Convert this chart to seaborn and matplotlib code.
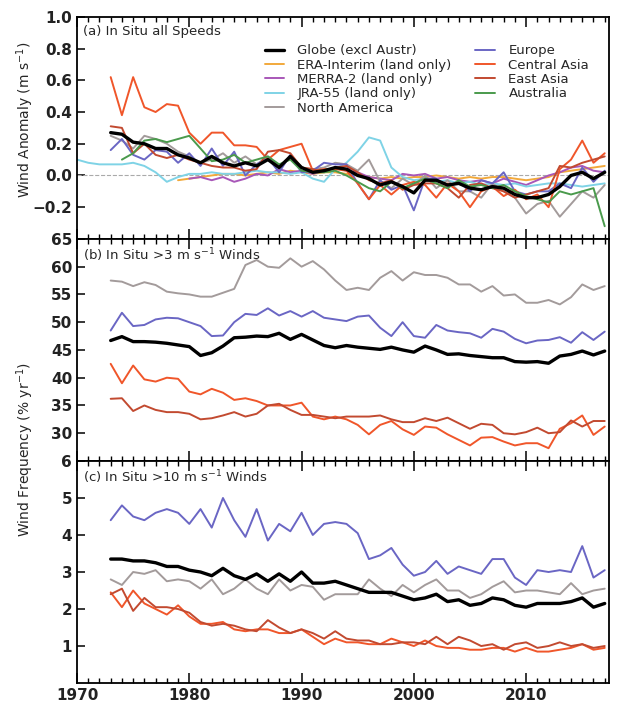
"""
Surface wind stability figure: in situ anomalies and frequency of
moderate (>3 m/s) and strong (>10 m/s) winds, 1973-2017.
"""

import numpy as np
import pandas as pd
import matplotlib
matplotlib.use("Agg")
import matplotlib.pyplot as plt
import seaborn as sns
from matplotlib.ticker import MultipleLocator

sns.set_style("white")
plt.rcParams['font.family'] = ['DejaVu Sans']

YEARS = list(range(1973, 2018))

# --- (a) anomalies, m/s ---
globe_a = [0.27, 0.26, 0.21, 0.20, 0.17, 0.17, 0.13, 0.11, 0.08, 0.12, 0.08, 0.06, 0.08, 0.06, 0.10,
           0.05, 0.12, 0.05, 0.02, 0.03, 0.05, 0.04, 0.00, -0.02, -0.06, -0.04, -0.07, -0.11, -0.03, -0.03,
           -0.06, -0.05, -0.08, -0.09, -0.07, -0.08, -0.12, -0.14, -0.14, -0.12, -0.07, 0.00, 0.02, -0.02, 0.02]
casia_a = [0.62, 0.38, 0.62, 0.43, 0.40, 0.45, 0.44, 0.27, 0.20, 0.27, 0.27, 0.19, 0.19, 0.18, 0.10,
           0.16, 0.18, 0.20, 0.03, 0.04, 0.04, 0.03, -0.05, -0.15, -0.06, -0.12, -0.06, -0.04, -0.06, -0.14,
           -0.05, -0.10, -0.20, -0.10, -0.07, -0.13, -0.09, -0.15, -0.12, -0.20, 0.04, 0.10, 0.22, 0.08, 0.14]
easia_a = [0.31, 0.30, 0.14, 0.20, 0.13, 0.11, 0.13, 0.10, 0.08, 0.06, 0.05, 0.05, 0.03, 0.04, 0.15,
           0.16, 0.14, 0.05, 0.04, 0.02, 0.05, 0.06, 0.02, -0.03, -0.05, -0.03, -0.09, -0.06, -0.05, -0.05,
           -0.08, -0.14, -0.06, -0.05, -0.08, -0.10, -0.14, -0.12, -0.10, -0.08, 0.06, 0.05, 0.08, 0.10, 0.12]
europe_a = [0.16, 0.23, 0.13, 0.10, 0.16, 0.15, 0.08, 0.14, 0.06, 0.17, 0.06, 0.15, 0.00, 0.07, 0.11,
            0.02, 0.13, 0.02, 0.03, 0.08, 0.07, 0.07, -0.05, -0.15, -0.03, -0.09, -0.06, -0.22, -0.02, -0.02,
            -0.07, -0.04, -0.10, -0.03, -0.05, 0.02, -0.10, -0.12, -0.10, -0.10, -0.05, -0.08, 0.05, -0.04, 0.03]
namer_a = [0.25, 0.22, 0.17, 0.25, 0.23, 0.20, 0.15, 0.12, 0.08, 0.10, 0.14, 0.08, 0.12, 0.07, 0.12,
           0.06, 0.12, 0.05, 0.04, 0.05, 0.08, 0.07, 0.03, 0.10, -0.04, -0.08, -0.02, -0.06, 0.00, -0.08,
           -0.03, -0.10, -0.10, -0.14, -0.05, -0.10, -0.14, -0.24, -0.18, -0.16, -0.26, -0.18, -0.10, -0.14, -0.06]
AUS_YEARS = list(range(1974, 2018))
austr_a = [0.10, 0.14, 0.22, 0.23, 0.21, 0.23, 0.25, 0.17, 0.09, 0.10, 0.13, 0.08, 0.10, 0.12,
           0.07, 0.10, 0.03, 0.02, 0.02, 0.03, 0.00, -0.04, -0.08, -0.10, -0.04, -0.08, -0.05, -0.02,
           -0.05, -0.08, -0.03, -0.07, -0.06, -0.08, -0.06, -0.10, -0.13, -0.15, -0.17, -0.10, -0.12,
           -0.10, -0.08, -0.32]
ERA_YEARS = list(range(1979, 2018))
era_a = [-0.03, -0.02, -0.01, 0.00, 0.01, 0.01, 0.00, 0.01, 0.02, 0.01, 0.03, 0.02, 0.01, 0.02, 0.02,
         0.01, 0.00, -0.01, -0.02, -0.01, -0.02, -0.01, -0.01, 0.00, -0.01, -0.02, -0.01, -0.02, -0.01,
         -0.01, -0.02, -0.03, -0.02, -0.01, 0.02, 0.03, 0.04, 0.05, 0.06]
MERRA_YEARS = list(range(1980, 2018))
merra_a = [-0.02, -0.01, -0.03, -0.01, -0.04, -0.02, 0.01, 0.00, 0.04, 0.02, 0.03, 0.01, 0.03, 0.05,
           0.03, 0.02, -0.01, -0.02, -0.03, 0.01, 0.00, 0.01, -0.02, -0.01, -0.03, -0.04, -0.03, -0.05,
           -0.02, -0.04, -0.06, -0.03, 0.00, 0.02, 0.05, 0.06, 0.03, 0.02]
JRA_YEARS = list(range(1970, 2018))
jra_a = [0.10, 0.08, 0.07, 0.07, 0.07, 0.08, 0.06, 0.02, -0.04, -0.01, 0.01, 0.01, 0.02, 0.01, 0.01,
         0.02, 0.03, 0.02, 0.02, 0.01, 0.02, -0.02, -0.04, 0.04, 0.08, 0.15, 0.24, 0.22, 0.05, -0.01,
         -0.03, -0.02, -0.04, -0.03, -0.05, -0.04, -0.06, -0.05, -0.06, -0.05, -0.07, -0.06, -0.05,
         -0.05, -0.06, -0.07, -0.06, -0.05]

# --- (b) >3 m/s frequency, % per year ---
namer_b = [57.5, 57.3, 56.5, 57.2, 56.7, 55.5, 55.2, 55.0, 54.6, 54.6, 55.3, 56.0, 60.3, 61.2, 60.0,
           59.8, 61.5, 60.0, 61.0, 59.5, 57.5, 55.8, 56.2, 55.8, 58.0, 59.2, 57.5, 59.0, 58.5, 58.5,
           58.0, 56.8, 56.8, 55.5, 56.5, 54.8, 55.0, 53.5, 53.5, 54.0, 53.2, 54.5, 56.8, 55.8, 56.5]
europe_b = [48.5, 51.7, 49.3, 49.5, 50.5, 50.8, 50.7, 50.0, 49.3, 47.5, 47.6, 50.0, 51.5, 51.3, 52.5,
            51.2, 52.0, 51.0, 52.0, 50.8, 50.5, 50.2, 51.0, 51.2, 49.0, 47.5, 50.0, 47.5, 47.2, 49.5,
            48.5, 48.2, 48.0, 47.2, 48.8, 48.3, 47.0, 46.2, 46.7, 46.8, 47.3, 46.3, 48.2, 46.8, 48.3]
globe_b = [46.7, 47.4, 46.5, 46.5, 46.4, 46.2, 45.9, 45.6, 44.0, 44.5, 45.7, 47.2, 47.3, 47.5, 47.4,
           48.0, 46.9, 47.8, 46.8, 45.8, 45.4, 45.8, 45.5, 45.3, 45.1, 45.5, 45.0, 44.6, 45.7, 45.0,
           44.2, 44.3, 44.0, 43.8, 43.6, 43.6, 42.9, 42.8, 42.9, 42.6, 43.9, 44.2, 44.8, 44.1, 44.8]
casia_b = [42.5, 39.0, 42.2, 39.7, 39.3, 40.0, 39.8, 37.5, 37.0, 38.0, 37.3, 36.0, 36.3, 35.8, 35.0,
           35.0, 35.0, 35.5, 33.0, 32.5, 33.0, 32.5, 31.5, 29.8, 31.5, 32.2, 30.7, 29.7, 31.2, 31.0,
           29.8, 28.8, 27.8, 29.2, 29.3, 28.5, 27.8, 28.2, 28.2, 27.3, 30.8, 31.8, 33.2, 29.7, 31.2]
easia_b = [36.2, 36.3, 34.0, 35.0, 34.2, 33.8, 33.8, 33.5, 32.5, 32.7, 33.2, 33.8, 33.0, 33.5, 35.0,
           35.3, 34.2, 33.3, 33.3, 33.0, 32.7, 33.0, 33.0, 33.0, 33.2, 32.5, 32.0, 32.0, 32.7, 32.2,
           32.8, 31.8, 30.8, 31.7, 31.5, 30.0, 29.8, 30.2, 31.0, 30.0, 30.2, 32.3, 31.2, 32.2, 32.2]

# --- (c) >10 m/s frequency, % per year ---
europe_c = [4.4, 4.8, 4.5, 4.4, 4.6, 4.7, 4.6, 4.3, 4.7, 4.2, 5.0, 4.4, 3.95, 4.7, 3.85,
            4.3, 4.1, 4.6, 4.0, 4.3, 4.35, 4.3, 4.05, 3.35, 3.45, 3.65, 3.2, 2.9, 3.0, 3.3,
            2.95, 3.15, 3.05, 2.95, 3.35, 3.35, 2.85, 2.65, 3.05, 3.0, 3.05, 3.0, 3.7, 2.85, 3.05]
globe_c = [3.35, 3.35, 3.3, 3.3, 3.25, 3.15, 3.15, 3.05, 3.0, 2.9, 3.1, 2.9, 2.8, 2.95, 2.75,
           2.95, 2.75, 3.0, 2.7, 2.7, 2.75, 2.65, 2.55, 2.45, 2.45, 2.45, 2.35, 2.25, 2.3, 2.4,
           2.2, 2.25, 2.1, 2.15, 2.3, 2.25, 2.1, 2.05, 2.15, 2.15, 2.15, 2.2, 2.3, 2.05, 2.15]
namer_c = [2.8, 2.65, 3.0, 2.95, 3.05, 2.75, 2.8, 2.75, 2.55, 2.8, 2.4, 2.55, 2.8, 2.55, 2.4,
           2.8, 2.5, 2.65, 2.6, 2.25, 2.4, 2.4, 2.4, 2.8, 2.55, 2.35, 2.65, 2.45, 2.65, 2.8,
           2.5, 2.5, 2.3, 2.4, 2.6, 2.75, 2.45, 2.5, 2.5, 2.45, 2.4, 2.7, 2.4, 2.5, 2.55]
casia_c = [2.45, 2.05, 2.5, 2.15, 2.0, 1.85, 2.1, 1.8, 1.6, 1.6, 1.65, 1.45, 1.4, 1.45, 1.45,
           1.35, 1.35, 1.45, 1.25, 1.05, 1.2, 1.1, 1.1, 1.05, 1.05, 1.2, 1.1, 1.0, 1.15, 1.0,
           0.95, 0.95, 0.9, 0.9, 0.95, 0.95, 0.85, 0.95, 0.85, 0.85, 0.9, 0.95, 1.05, 0.9, 0.95]
easia_c = [2.4, 2.55, 1.95, 2.3, 2.05, 2.05, 2.0, 1.9, 1.65, 1.55, 1.6, 1.55, 1.45, 1.4, 1.7,
           1.5, 1.35, 1.45, 1.35, 1.2, 1.4, 1.2, 1.15, 1.15, 1.05, 1.05, 1.1, 1.1, 1.05, 1.25,
           1.05, 1.25, 1.15, 1.0, 1.05, 0.9, 1.05, 1.1, 0.95, 1.0, 1.1, 1.0, 1.05, 0.95, 1.0]

# Colours
C = {
    'Globe (excl Austr)': 'black',
    'ERA-Interim (land only)': '#f2a93b',
    'MERRA-2 (land only)': '#a857b8',
    'JRA-55 (land only)': '#7fd3e6',
    'North America': '#a39b9b',
    'Europe': '#6a66c4',
    'Central Asia': '#f0562a',
    'East Asia': '#c24a30',
    'Australia': '#4a9a4c',
}


def draw(ax, x, y, name, lw=1.4, z=2):
    df = pd.DataFrame({'year': x, 'val': y})
    sns.lineplot(data=df, x='year', y='val', ax=ax, color=C[name], lw=lw,
                 label=name, zorder=z, legend=False)


fig = plt.figure(figsize=(6.21, 7.02), dpi=100)
gs = fig.add_gridspec(3, 1, left=0.124, right=0.981, top=0.976, bottom=0.027, hspace=0)
ax1 = fig.add_subplot(gs[0])
ax2 = fig.add_subplot(gs[1], sharex=ax1)
ax3 = fig.add_subplot(gs[2], sharex=ax1)

# --- panel a ---
ax1.axhline(0, color='#aaaaaa', ls='--', lw=0.8, zorder=1)
draw(ax1, YEARS, globe_a, 'Globe (excl Austr)', lw=2.4, z=5)
draw(ax1, ERA_YEARS, era_a, 'ERA-Interim (land only)')
draw(ax1, MERRA_YEARS, merra_a, 'MERRA-2 (land only)')
draw(ax1, JRA_YEARS, jra_a, 'JRA-55 (land only)')
draw(ax1, YEARS, namer_a, 'North America')
draw(ax1, YEARS, europe_a, 'Europe')
draw(ax1, YEARS, casia_a, 'Central Asia')
draw(ax1, YEARS, easia_a, 'East Asia')
draw(ax1, AUS_YEARS, austr_a, 'Australia')
ax1.set_ylim(-0.4, 1.0)
ax1.set_yticks([-0.2, 0.0, 0.2, 0.4, 0.6, 0.8, 1.0])
ax1.set_yticklabels(['\u22120.2', '0.0', '0.2', '0.4', '0.6', '0.8', '1.0'])
h, l = ax1.get_legend_handles_labels()
ax1.legend(h, l, ncol=2, frameon=False, fontsize=9.5, handlelength=1.5,
           handletextpad=1.0, columnspacing=1.8, labelspacing=0.1,
           loc='upper left', bbox_to_anchor=(0.33, 0.93))
ax1.text(0.012, 0.965, '(a) In Situ all Speeds', transform=ax1.transAxes,
         fontsize=9.5, va='top')

# --- panel b ---
draw(ax2, YEARS, namer_b, 'North America')
draw(ax2, YEARS, europe_b, 'Europe')
draw(ax2, YEARS, globe_b, 'Globe (excl Austr)', lw=2.4, z=5)
draw(ax2, YEARS, casia_b, 'Central Asia')
draw(ax2, YEARS, easia_b, 'East Asia')
ax2.set_ylim(25, 65)
ax2.set_yticks([30, 35, 40, 45, 50, 55, 60, 65])
ax2.text(0.012, 0.965, '(b) In Situ >3 m s$^{-1}$ Winds', transform=ax2.transAxes,
         fontsize=9.5, va='top')

# --- panel c ---
draw(ax3, YEARS, europe_c, 'Europe')
draw(ax3, YEARS, namer_c, 'North America')
draw(ax3, YEARS, globe_c, 'Globe (excl Austr)', lw=2.4, z=5)
draw(ax3, YEARS, casia_c, 'Central Asia')
draw(ax3, YEARS, easia_c, 'East Asia')
ax3.set_ylim(0, 6)
ax3.set_yticks([1, 2, 3, 4, 5, 6])
ax3.text(0.012, 0.965, '(c) In Situ >10 m s$^{-1}$ Winds', transform=ax3.transAxes,
         fontsize=9.5, va='top')

ax3.set_xlim(1970, 2017.4)
ax3.xaxis.set_major_locator(MultipleLocator(10))
ax3.xaxis.set_minor_locator(MultipleLocator(1))

for ax in (ax1, ax2, ax3):
    ax.set_xlabel('')
    ax.set_ylabel('')
    for s in ax.spines.values():
        s.set_color('black')
        s.set_linewidth(1.3)
    ax.tick_params(axis='x', which='both', direction='in', top=True, bottom=True, color='black')
    ax.tick_params(axis='x', which='major', length=7, width=1.1)
    ax.tick_params(axis='x', which='minor', length=3.5, width=1.0)
    ax.tick_params(axis='y', which='major', direction='in', left=True, right=False,
                   length=6, width=1.1, color='black')
    ax.tick_params(labelsize=11)
    for t in ax.get_yticklabels() + ax.get_xticklabels():
        t.set_fontweight('semibold')
        t.set_color('#222222')

for ax in (ax1, ax2):
    ax.tick_params(axis='x', labelbottom=False)

fig.text(0.04, 0.83, 'Wind Anomaly (m s$^{-1}$)', rotation=90, va='center', ha='center', fontsize=10)
fig.text(0.04, 0.36, 'Wind Frequency (% yr$^{-1}$)', rotation=90, va='center', ha='center', fontsize=10)

fig.savefig('out.png', dpi=100)
